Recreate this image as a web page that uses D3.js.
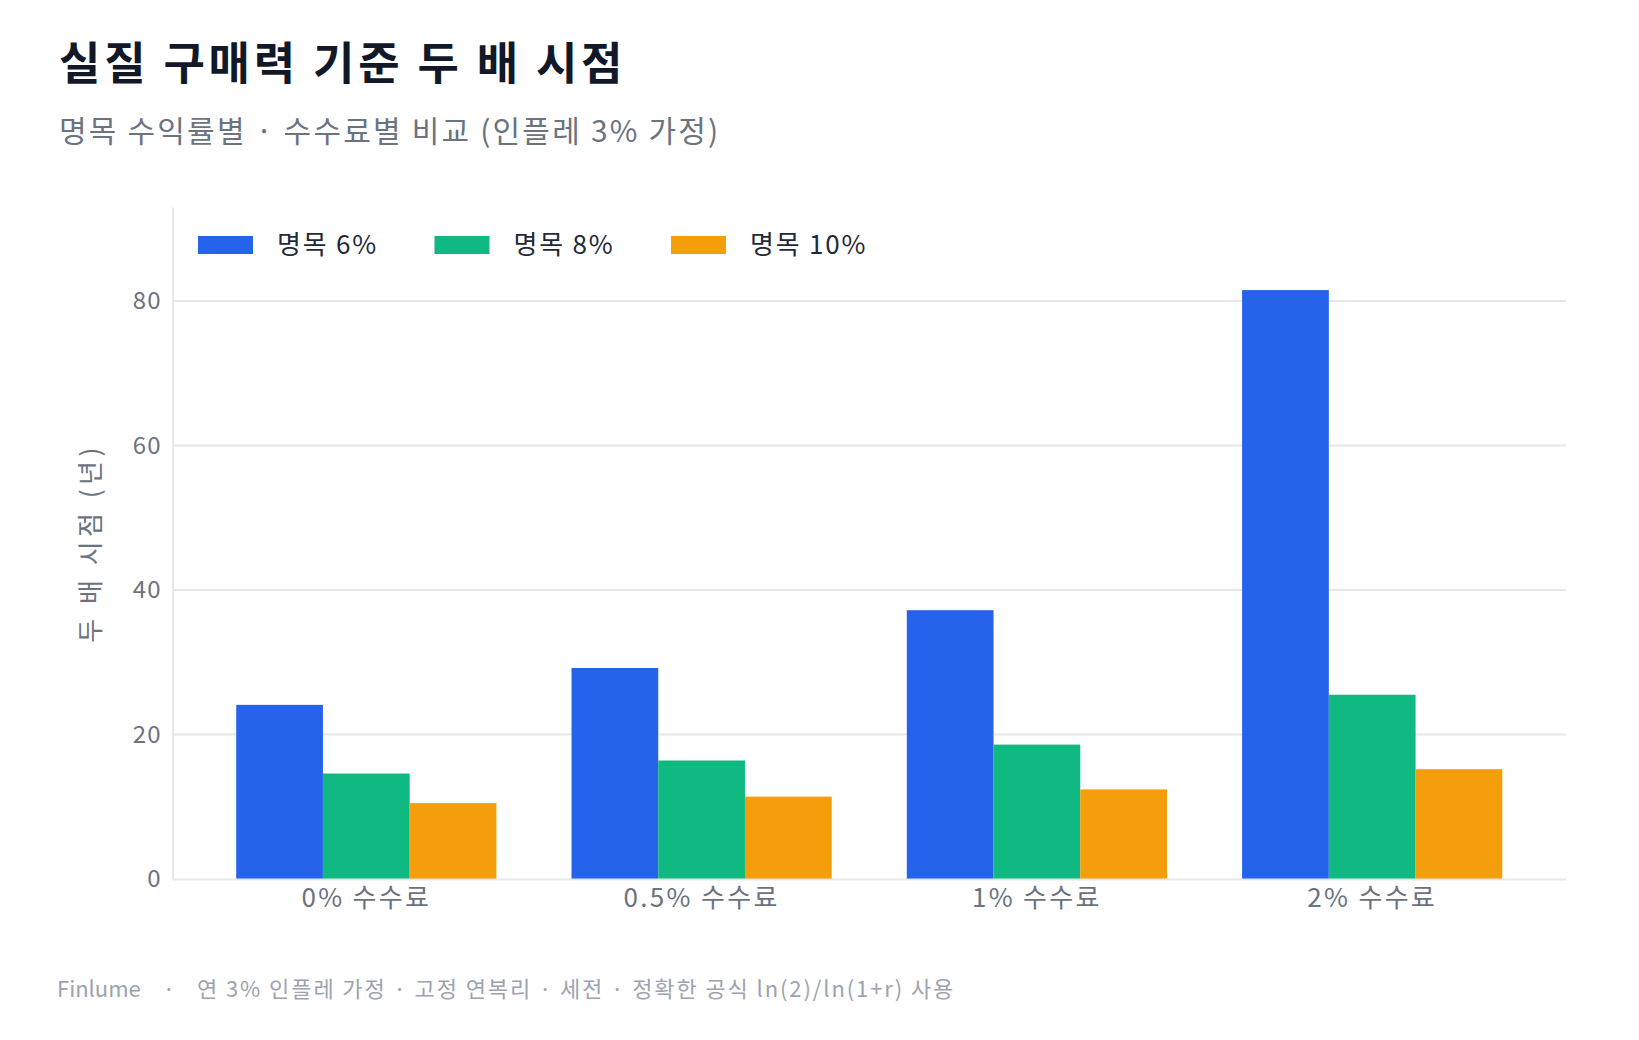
<!DOCTYPE html>
<html>
<head>
<meta charset="utf-8">
<style>
  body { margin: 0; background: #ffffff; }
  svg text { font-family: "Noto Sans CJK KR", "Noto Sans", sans-serif; }
</style>
</head>
<body>
<svg id="chart"></svg>
<script src="https://cdn.jsdelivr.net/npm/d3@7"></script>
<script>
  // data
  var fees = ["0% 수수료", "0.5% 수수료", "1% 수수료", "2% 수수료"];
  var seriesNames = ["명목 6%", "명목 8%", "명목 10%"];
  var nominal6 = [24.1, 29.2, 37.2, 81.5];
  var nominal8 = [14.6, 16.4, 18.6, 25.5];
  var nominal10 = [10.5, 11.4, 12.4, 15.2];
  var yTicks = [0, 20, 40, 60, 80];
  var colors = ["#2563eb", "#10b981", "#f59e0b"];

  var width = 1639, height = 1040;
  var plotLeft = 172.5, plotRight = 1566, plotTop = 207, plotBottom = 879;

  var svg = d3.select("#chart").attr("width", width).attr("height", height);

  var allSeries = [nominal6, nominal8, nominal10];
  var rows = fees.map(function (f, i) {
    return { fee: f, values: allSeries.map(function (s, j) { return { key: seriesNames[j], value: s[i], idx: j }; }) };
  });

  var x0 = d3.scaleBand().domain(fees).range([plotLeft, plotRight]).paddingInner(0.224).paddingOuter(0.19);
  var x1 = d3.scaleBand().domain(seriesNames).range([0, x0.bandwidth()]).padding(0);
  var y = d3.scaleLinear().domain([0, 93]).range([plotBottom, plotTop]);

  // title
  svg.append("text").attr("x", 59).attr("y", 80)
    .attr("font-size", 45).attr("font-weight", 700).attr("fill", "#111827")
    .attr("letter-spacing", 3.8)
    .text("실질 구매력 기준 두 배 시점");
  svg.append("text").attr("x", 59).attr("y", 142)
    .attr("font-size", 30).attr("fill", "#6b7280")
    .attr("letter-spacing", 2.2)
    .text("명목 수익률별 · 수수료별 비교 (인플레 3% 가정)");

  // gridlines
  svg.append("g").selectAll("line").data(yTicks.filter(function (d) { return d > 0; })).enter()
    .append("line")
    .attr("x1", plotLeft).attr("x2", plotRight)
    .attr("y1", function (d) { return y(d); }).attr("y2", function (d) { return y(d); })
    .attr("stroke", "#e5e7eb").attr("stroke-width", 2);

  // y axis
  var yAxis = svg.append("g").attr("transform", "translate(" + plotLeft + ",0)")
    .call(d3.axisLeft(y).tickValues(yTicks).tickSize(0).tickPadding(11));
  yAxis.select(".domain").attr("stroke", "#e5e7eb").attr("stroke-width", 2);
  yAxis.selectAll("text").attr("font-size", 24).attr("fill", "#6b7280")
    .attr("letter-spacing", 1)
    .style("font-family", "'Noto Sans CJK KR', sans-serif");

  // bars
  var groups = svg.append("g").selectAll("g").data(rows).enter()
    .append("g").attr("transform", function (d) { return "translate(" + x0(d.fee) + ",0)"; });
  groups.selectAll("rect").data(function (d) { return d.values; }).enter()
    .append("rect")
    .attr("x", function (d) { return x1(d.key); })
    .attr("y", function (d) { return y(d.value); })
    .attr("width", x1.bandwidth())
    .attr("height", function (d) { return y(0) - y(d.value); })
    .attr("fill", function (d) { return colors[d.idx]; });

  // x axis
  var xAxis = svg.append("g").attr("transform", "translate(0," + plotBottom + ")")
    .call(d3.axisBottom(x0).tickSize(0).tickPadding(10));
  xAxis.select(".domain").attr("stroke", "#e5e7eb").attr("stroke-width", 2);
  xAxis.selectAll("text").attr("font-size", 26).attr("fill", "#6b7280")
    .attr("letter-spacing", 2.3)
    .style("font-family", "'Noto Sans CJK KR', sans-serif");

  // y axis title
  svg.append("text")
    .attr("transform", "translate(100,543) rotate(-90)")
    .attr("text-anchor", "middle")
    .attr("font-size", 26).attr("fill", "#6b7280")
    .attr("letter-spacing", 4.5)
    .text("두 배 시점 (년)");

  // legend
  var legend = svg.append("g").selectAll("g").data(seriesNames).enter()
    .append("g").attr("transform", function (d, i) { return "translate(" + (198 + i * 236.5) + ",236)"; });
  legend.append("rect").attr("width", 55).attr("height", 18)
    .attr("fill", function (d, i) { return colors[i]; });
  legend.append("text").attr("x", 79).attr("y", 9).attr("dy", "0.35em")
    .attr("font-size", 26).attr("fill", "#1f2937")
    .attr("letter-spacing", 1.8)
    .text(function (d) { return d; });

  // footer
  var foot = svg.append("text").attr("x", 57).attr("y", 997)
    .attr("font-size", 22).attr("fill", "#9ca3af");
  foot.append("tspan").text("Finlume");
  foot.append("tspan").attr("dx", 22).text("·");
  foot.append("tspan").attr("dx", 22).attr("letter-spacing", 1.9)
    .text("연 3% 인플레 가정 · 고정 연복리 · 세전 · 정확한 공식 ln(2)/ln(1+r) 사용");
</script>
</body>
</html>
